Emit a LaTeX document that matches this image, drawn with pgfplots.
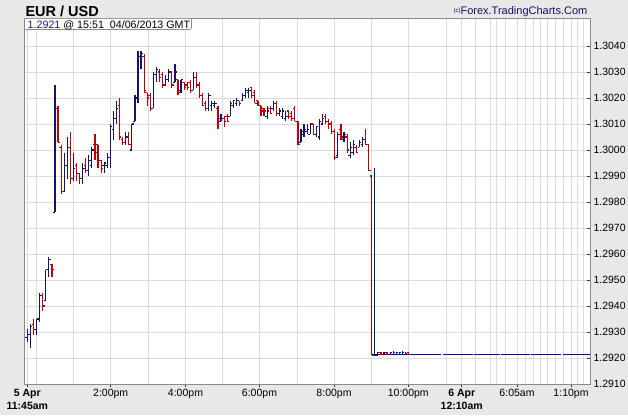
\documentclass[border=0pt]{standalone}
\usepackage{pgfplots}
\pgfplotsset{compat=1.18}
\usepackage{pgfplotstable}
\usepackage{fontspec}
\setmainfont{Liberation Sans}
\definecolor{bgc}{HTML}{E8E8E8}
\definecolor{gridc}{HTML}{DCDCDC}
\definecolor{framec}{HTML}{8A8A8A}
\definecolor{upc}{HTML}{141470}
\definecolor{dnc}{HTML}{C40000}
\definecolor{cpyc}{HTML}{14145E}
\definecolor{infoc}{HTML}{1A1A8C}

\pgfplotstableread{
k o h l c
0 1.2928 1.2931 1.2926 1.2929
1 1.2929 1.2933 1.2924 1.2932
3 1.2931 1.2935 1.2929 1.2935
4 1.2935 1.2945 1.2934 1.2944
6 1.2942 1.2954 1.2942 1.2954
7 1.2954 1.2959 1.2951 1.2958
9 1.2976 1.3025 1.2976 1.3016
12 1.2984 1.2999 1.2984 1.2994
13 1.2994 1.3005 1.2989 1.3001
15 1.2989 1.2999 1.2988 1.2993
18 1.2989 1.2995 1.2987 1.2993
20 1.2992 1.2998 1.2990 1.2996
21 1.2994 1.3001 1.2993 1.3000
25 1.2994 1.2995 1.2991 1.2995
26 1.2994 1.2999 1.2993 1.2997
27 1.2997 1.3010 1.2993 1.3009
28 1.3008 1.3015 1.3004 1.3012
29 1.3012 1.3019 1.3010 1.3016
32 1.3003 1.3007 1.3002 1.3005
34 1.3000 1.3010 1.3000 1.3010
35 1.3011 1.3021 1.3011 1.3020
36 1.3020 1.3038 1.3018 1.3036
37 1.3036 1.3038 1.3031 1.3037
41 1.3016 1.3030 1.3016 1.3029
42 1.3029 1.3032 1.3026 1.3031
45 1.3025 1.3029 1.3025 1.3027
46 1.3027 1.3031 1.3026 1.3030
48 1.3026 1.3033 1.3026 1.3030
50 1.3023 1.3027 1.3022 1.3027
54 1.3023 1.3030 1.3023 1.3028
59 1.3016 1.3022 1.3015 1.3021
60 1.3017 1.3019 1.3015 1.3018
61 1.3017 1.3019 1.3016 1.3018
63 1.3011 1.3014 1.3011 1.3012
66 1.3013 1.3019 1.3013 1.3018
67 1.3017 1.3019 1.3016 1.3019
68 1.3018 1.3020 1.3017 1.3019
70 1.3019 1.3022 1.3019 1.3021
71 1.3021 1.3024 1.3020 1.3023
72 1.3022 1.3024 1.3020 1.3023
78 1.3013 1.3017 1.3012 1.3015
80 1.3016 1.3019 1.3015 1.3018
82 1.3014 1.3016 1.3013 1.3015
83 1.3013 1.3016 1.3012 1.3015
84 1.3012 1.3015 1.3011 1.3013
89 1.3003 1.3008 1.3003 1.3007
90 1.3006 1.3010 1.3005 1.3008
91 1.3007 1.3010 1.3006 1.3008
92 1.3006 1.3010 1.3006 1.3010
94 1.3006 1.3009 1.3005 1.3009
95 1.3005 1.3012 1.3004 1.3011
96 1.3010 1.3014 1.3010 1.3012
101 1.2998 1.3007 1.2997 1.3006
103 1.3004 1.3007 1.3003 1.3006
105 1.2998 1.3003 1.2997 1.3001
106 1.2999 1.3004 1.2998 1.3002
108 1.3001 1.3004 1.3001 1.3003
109 1.3002 1.3005 1.3001 1.3004
113 1.2921 1.2993 1.2921 1.2921
114 1.29210 1.29224 1.29210 1.29220
116 1.29212 1.29224 1.29210 1.29222
118 1.29212 1.29224 1.29210 1.29220
119 1.29212 1.29226 1.29210 1.29222
120 1.29215 1.29224 1.29210 1.29220
121 1.29212 1.29224 1.29210 1.29222
122 1.29212 1.29226 1.29210 1.29220
123 1.29212 1.29224 1.29210 1.29218
}\upbars

\pgfplotstableread{
k o h l c
2 1.2933 1.2935 1.2929 1.2931
5 1.2944 1.2945 1.2938 1.2940
8 1.2956 1.2956 1.2951 1.2954
10 1.3016 1.3017 1.3003 1.3003
11 1.3001 1.3002 1.2983 1.2984
14 1.3001 1.3007 1.2987 1.2989
16 1.2994 1.2995 1.2988 1.2991
17 1.2991 1.2991 1.2987 1.2989
19 1.2994 1.2997 1.2991 1.2992
22 1.3002 1.3006 1.2996 1.2999
23 1.3002 1.3002 1.2993 1.2996
24 1.2996 1.2996 1.2991 1.2993
30 1.3017 1.3020 1.3004 1.3005
31 1.3004 1.3005 1.3002 1.3003
33 1.3005 1.3007 1.3002 1.3002
38 1.3036 1.3037 1.3022 1.3023
39 1.3022 1.3022 1.3017 1.3020
40 1.3021 1.3022 1.3015 1.3016
43 1.3030 1.3031 1.3026 1.3028
44 1.3029 1.3030 1.3024 1.3025
47 1.3030 1.3030 1.3024 1.3025
49 1.3027 1.3027 1.3021 1.3022
51 1.3026 1.3026 1.3023 1.3024
52 1.3025 1.3026 1.3023 1.3024
53 1.3026 1.3027 1.3022 1.3023
55 1.3028 1.3030 1.3024 1.3025
56 1.3025 1.3026 1.3020 1.3021
57 1.3021 1.3022 1.3017 1.3017
58 1.3018 1.3019 1.3015 1.3016
62 1.3016 1.3017 1.3008 1.3012
64 1.3012 1.3013 1.3009 1.3011
65 1.3013 1.3014 1.3011 1.3011
69 1.3019 1.3019 1.3017 1.3018
73 1.3024 1.3024 1.3020 1.3021
74 1.3022 1.3023 1.3018 1.3018
75 1.3019 1.3019 1.3017 1.3017
76 1.3017 1.3017 1.3013 1.3015
77 1.3016 1.3016 1.3013 1.3015
79 1.3016 1.3017 1.3014 1.3014
81 1.3018 1.3019 1.3013 1.3014
85 1.3015 1.3015 1.3012 1.3013
86 1.3014 1.3015 1.3011 1.3012
87 1.3016 1.3017 1.3011 1.3011
88 1.3011 1.3011 1.3002 1.3002
93 1.3010 1.3010 1.3006 1.3006
97 1.3013 1.3014 1.3010 1.3011
98 1.3011 1.3012 1.3008 1.3010
99 1.3010 1.3011 1.3006 1.3007
100 1.3007 1.3008 1.2996 1.2997
102 1.3008 1.3010 1.3004 1.3005
104 1.3005 1.3006 1.2999 1.3000
107 1.3001 1.3002 1.2999 1.2999
110 1.3004 1.3008 1.3002 1.3002
111 1.3002 1.3002 1.2992 1.2992
112 1.2990 1.2990 1.2921 1.2921
115 1.29220 1.29222 1.29210 1.29212
117 1.29220 1.29222 1.29210 1.29212
124 1.29220 1.29222 1.29210 1.29212
}\downbars

\pgfplotstableread{
x y
372 1.29212
441 1.29212
442 nan
443 1.29212
472.5 1.29212
473 nan
474 1.29212
499.5 1.29212
500 nan
501 1.29212
529.5 1.29212
530 nan
531 1.29212
561 1.29212
562 nan
563 1.29212
589.5 1.29212
}\flatline

\begin{document}
\begin{tikzpicture}
\fill[bgc] (0,0) rectangle (628pt,415pt);
\path[use as bounding box] (0,0) rectangle (628pt,415pt);
\begin{axis}[
  at={(25pt,31pt)}, anchor=south west,
  scale only axis, width=565pt, height=365.5pt,
  xmin=25, xmax=590, ymin=1.291, ymax=1.305058,
  axis background/.style={fill=white},
  axis line style={draw=framec, line width=1pt},
  xmajorgrids=true, xminorgrids=true, ymajorgrids=true,
  major grid style={draw=gridc, line width=0.9pt},
  minor grid style={draw=gridc, line width=0.9pt},
  xtick={27.3,110.7,185.5,259.5,334,408.3,461.7,517,571},
  xticklabels={{\textbf{5 Apr}\\\textbf{11:45am}},2:00pm,4:00pm,6:00pm,8:00pm,10:00pm,{\textbf{6 Apr}\\\textbf{12:10am}},6:05am,1:10pm},
  minor xtick={36.7,73.3,148,222.3,297,371,446.5,475.5,490,496,505,525,533,540,547.5,555.5,563.3,577.5,583.7},
  ytick={1.291,1.292,1.293,1.294,1.295,1.296,1.297,1.298,1.299,1.300,1.301,1.302,1.303,1.304},
  yticklabels={1.2910,1.2920,1.2930,1.2940,1.2950,1.2960,1.2970,1.2980,1.2990,1.3000,1.3010,1.3020,1.3030,1.3040},
  xtick pos=lower, ytick pos=right, yticklabel pos=right,
  xtick align=outside, ytick align=inside,
  major tick length=3pt, minor tick length=0pt,
  tick style={draw=black!80, line width=0.8pt},
  tick label style={font=\fontsize{10.5}{12.5}\selectfont},
  xticklabel style={align=center, yshift=1pt},
  barv/.style={draw=none, mark=none, error bars/.cd, y dir=minus, y explicit, error mark=none,
    error bar style={draw=#1, line width=1.2pt}},
  barl/.style={draw=none, mark=none, error bars/.cd, x dir=minus, x fixed=1.9, error mark=none,
    error bar style={draw=#1, line width=1.2pt}},
  barr/.style={draw=none, mark=none, error bars/.cd, x dir=plus, x fixed=1.9, error mark=none,
    error bar style={draw=#1, line width=1.2pt}},
]
\addplot[upc, line width=1.1pt, unbounded coords=jump] table[x=x, y=y]{\flatline};
% up bars (navy)
\addplot[barv=upc] table[x expr=27.3+3.075*\thisrow{k}, y=h, y error minus expr=\thisrow{h}-\thisrow{l}]{\upbars};
\addplot[barl=upc] table[x expr=27.3+3.075*\thisrow{k}, y=o]{\upbars};
\addplot[barr=upc] table[x expr=27.3+3.075*\thisrow{k}, y=c]{\upbars};
% down bars (red)
\addplot[barv=dnc] table[x expr=27.3+3.075*\thisrow{k}, y=h, y error minus expr=\thisrow{h}-\thisrow{l}]{\downbars};
\addplot[barl=dnc] table[x expr=27.3+3.075*\thisrow{k}, y=o]{\downbars};
\addplot[barr=dnc] table[x expr=27.3+3.075*\thisrow{k}, y=c]{\downbars};
\end{axis}
% info box
\fill[white] (25.5pt,396pt) -- (25.5pt,385.5pt) -- (189pt,385.5pt) arc[start angle=270, end angle=360, radius=2.5pt] -- (191.5pt,396pt) -- cycle;
\draw[framec, line width=0.8pt] (25.5pt,385.5pt) -- (189pt,385.5pt) arc[start angle=270, end angle=360, radius=2.5pt] -- (191.5pt,396.5pt);
\node[anchor=base west, inner sep=0pt, font=\fontsize{10.7}{12}\selectfont] at (27.5pt,386.9pt)
  {\textcolor{infoc}{1.2921} @ 15:51\hspace{0.55em}04/06/2013 GMT};
% title
\node[anchor=base west, inner sep=0pt, font=\bfseries\fontsize{14.5}{16}\selectfont] at (25.3pt,398.4pt) {EUR / USD};
% copyright
\node[anchor=base east, inner sep=0pt, text=cpyc, font=\fontsize{11}{13}\selectfont] at (587.5pt,400pt)
  {\raisebox{2.5pt}{\fontsize{6}{7}\selectfont(c)}Forex.TradingCharts.Com};
\end{tikzpicture}
\end{document}
